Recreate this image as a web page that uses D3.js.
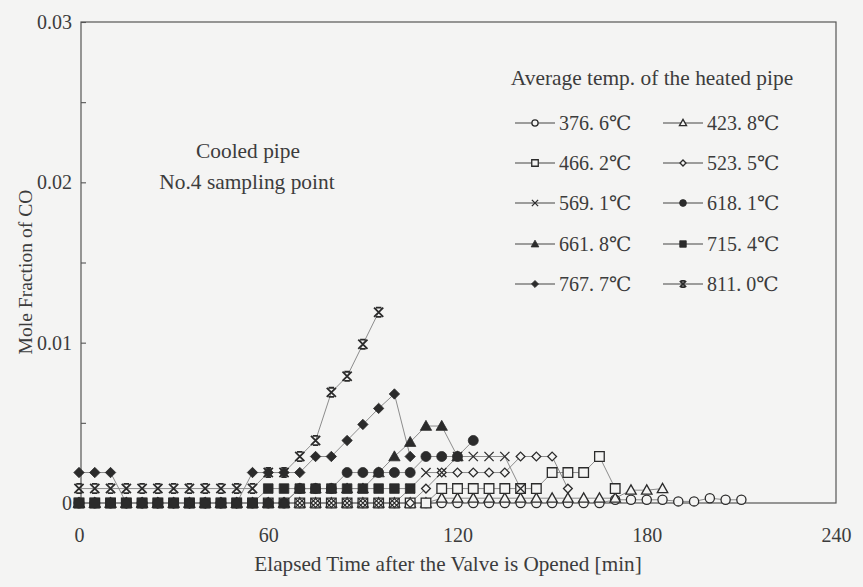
<!DOCTYPE html>
<html>
<head>
<meta charset="utf-8">
<script src="https://cdn.jsdelivr.net/npm/d3@7"></script>
<style>
  body { margin: 0; background: #f4f4f3; }
  svg { display: block; }
  text { font-family: "Liberation Serif", "DejaVu Serif", serif; fill: #3c3c3c; }
</style>
</head>
<body>
<svg id="chart" width="863" height="587"></svg>
<script>
// Sampling times [min] (every 5 min after the valve is opened)
const elapsedMin = [0, 5, 10, 15, 20, 25, 30, 35, 40, 45, 50, 55, 60, 65, 70, 75, 80, 85, 90, 95,
  100, 105, 110, 115, 120, 125, 130, 135, 140, 145, 150, 155, 160, 165, 170, 175, 180, 185, 190, 195,
  200, 205, 210];

// Average temperature of the heated pipe for each run
const runLabels = ["376. 6℃", "423. 8℃", "466. 2℃", "523. 5℃", "569. 1℃",
  "618. 1℃", "661. 8℃", "715. 4℃", "767. 7℃", "811. 0℃"];

// Mole fraction of CO at the No.4 sampling point, one value per sampling time
const co376 = [0, 0, 0, 0, 0, 0, 0, 0, 0, 0, 0, 0, 0, 0, 0, 0, 0, 0, 0, 0,
  0, 0, 0, 0, 0, 0, 0, 0, 0, 0, 0, 0, 0, 0,
  0.0002, 0.0002, 0.0002, 0.0002, 0.0001, 0.0001, 0.0003, 0.0002, 0.0002];
const co423 = [0, 0, 0, 0, 0, 0, 0, 0, 0, 0, 0, 0, 0, 0, 0, 0, 0, 0, 0, 0,
  0, 0, 0, 0.0003, 0.0003, 0.0003, 0.0003, 0.0003, 0.0003, 0.0003, 0.0003, 0.0003, 0.0003, 0.0003,
  0.0003, 0.0008, 0.0008, 0.0009];
const co466 = [0, 0, 0, 0, 0, 0, 0, 0, 0, 0, 0, 0, 0, 0, 0, 0, 0, 0, 0, 0,
  0, 0, 0, 0.0009, 0.0009, 0.0009, 0.0009, 0.0009, 0.0009, 0.0009, 0.0019, 0.0019, 0.0019, 0.0029,
  0.0009];
const co523 = [0, 0, 0, 0, 0, 0, 0, 0, 0, 0, 0, 0, 0, 0, 0, 0, 0, 0, 0, 0,
  0, 0, 0.0009, 0.0019, 0.0019, 0.0019, 0.0019, 0.0019, 0.0029, 0.0029, 0.0029, 0.0009];
const co569 = [0, 0, 0, 0, 0, 0, 0, 0, 0, 0, 0, 0, 0, 0, 0, 0, 0, 0, 0, 0,
  0, 0.0009, 0.0019, 0.0019, 0.0029, 0.0029, 0.0029, 0.0029, 0.0009];
const co618 = [0, 0, 0, 0, 0, 0, 0, 0, 0, 0, 0, 0, 0, 0, 0.0009, 0.0009, 0.0009, 0.0019, 0.0019, 0.0019,
  0.0019, 0.0019, 0.0029, 0.0029, 0.0029, 0.0039];
const co661 = [0, 0, 0, 0, 0, 0, 0, 0, 0, 0, 0, 0, 0, 0, 0.0009, 0.0009, 0.0009, 0.0009, 0.0009, 0.0019,
  0.0029, 0.0038, 0.0048, 0.0048, 0.0029];
const co715 = [0, 0, 0, 0, 0, 0, 0, 0, 0, 0, 0, 0, 0.0009, 0.0009, 0.0009, 0.0009, 0.0009, 0.0009, 0.0009, 0.0009,
  0.0009, 0.0009];
const co767 = [0.0019, 0.0019, 0.0019, 0, 0, 0, 0, 0, 0, 0, 0, 0.0019, 0.0019, 0.0019, 0.0019, 0.0029, 0.0029, 0.0039, 0.0049, 0.0059,
  0.0068, 0.0029];
const co811 = [0.0009, 0.0009, 0.0009, 0.0009, 0.0009, 0.0009, 0.0009, 0.0009, 0.0009, 0.0009, 0.0009, 0.0009, 0.0019, 0.0019, 0.0029, 0.0039, 0.0069, 0.0079, 0.0099, 0.0119];

const coSeries = [co376, co423, co466, co523, co569, co618, co661, co715, co767, co811];

// Axis ticks
const xTicks = [0, 60, 120, 180, 240];
const yTicks = [0, 0.005, 0.01, 0.015, 0.02, 0.025, 0.03];
const yTickLabels = ["0", "", "0.01", "", "0.02", "", "0.03"];

// ---- drawing ----
const BG = "#f4f4f3", INK = "#2b2b2b", LINE = "#8c8c8c", FRAME = "#555";
const FONT = '"Liberation Serif", "DejaVu Serif", serif';
const svg = d3.select("#chart");
const plot = { left: 81, right: 836, top: 22, bottom: 503 };

const x = d3.scaleLinear().domain([0, 240]).range([79, 836]);
const y = d3.scaleLinear().domain([0, 0.03]).range([503, 22]);

// marker styles per run: shape, filled?, size
const markerStyle = [
  { shape: "circle", fill: false, r: 4.6 },
  { shape: "triangle", fill: false, r: 5 },
  { shape: "square", fill: false, r: 4.8 },
  { shape: "diamond", fill: false, r: 4.4 },
  { shape: "x", fill: false, r: 4.6 },
  { shape: "circle", fill: true, r: 5 },
  { shape: "triangle", fill: true, r: 5.4 },
  { shape: "square", fill: true, r: 4.8 },
  { shape: "diamond", fill: true, r: 5.2 },
  { shape: "xbar", fill: true, r: 4.6 }
];

function markerPath(shape, r) {
  switch (shape) {
    case "triangle":
      return `M0,${-r * 1.05}L${r * 1.05},${r * 0.8}L${-r * 1.05},${r * 0.8}Z`;
    case "square":
      return `M${-r},${-r}H${r}V${r}H${-r}Z`;
    case "diamond":
      return `M0,${-r}L${r},0L0,${r}L${-r},0Z`;
    case "x":
      return `M${-r},${-r}L${r},${r}M${r},${-r}L${-r},${r}`;
    case "xbar":
      return `M${-r},${-r}L${r},${r}M${r},${-r}L${-r},${r}M${-r * 0.6},${-r}H${r * 0.6}M${-r * 0.6},${r}H${r * 0.6}`;
  }
  return null;
}

function drawMarker(g, st, cx, cy, scale) {
  const r = st.r * scale;
  const strokeOnly = st.shape === "x" || st.shape === "xbar";
  let el;
  if (st.shape === "circle") {
    el = g.append("circle").attr("cx", cx).attr("cy", cy).attr("r", r);
  } else {
    el = g.append("path").attr("d", markerPath(st.shape, r)).attr("transform", `translate(${cx},${cy})`);
  }
  if (strokeOnly) {
    el.attr("fill", "none").attr("stroke", INK).attr("stroke-width", st.shape === "xbar" ? 1.8 : 1.3);
  } else if (st.fill) {
    el.attr("fill", INK).attr("stroke", INK).attr("stroke-width", 0.8);
  } else {
    el.attr("fill", BG).attr("stroke", INK).attr("stroke-width", 1.3);
  }
}

// frame
svg.append("rect")
  .attr("x", plot.left).attr("y", plot.top)
  .attr("width", plot.right - plot.left).attr("height", plot.bottom - plot.top)
  .attr("fill", "none").attr("stroke", FRAME).attr("stroke-width", 1.2);

// y axis (ticks point inward)
const yAxis = svg.append("g")
  .attr("transform", `translate(${plot.left},0)`)
  .call(d3.axisLeft(y).tickValues(yTicks).tickSize(-5).tickPadding(9)
    .tickFormat((d, i) => yTickLabels[i]));
yAxis.select(".domain").remove();
yAxis.attr("font-family", FONT).attr("font-size", 20);
yAxis.selectAll("line").attr("stroke", FRAME).attr("stroke-width", 1.1);
yAxis.selectAll("text").attr("fill", "#3c3c3c");

// x axis labels
const xAxis = svg.append("g")
  .attr("transform", `translate(0,${plot.bottom})`)
  .call(d3.axisBottom(x).tickValues(xTicks).tickSize(0).tickPadding(25).tickFormat(d3.format("d")));
xAxis.select(".domain").remove();
xAxis.attr("font-family", FONT).attr("font-size", 20);
xAxis.selectAll("text").attr("fill", "#3c3c3c");

// axis titles
svg.append("text")
  .attr("x", 448).attr("y", 571).attr("text-anchor", "middle").attr("font-size", 21.2)
  .text("Elapsed Time after the Valve is Opened [min]");
svg.append("text")
  .attr("transform", "translate(32,272) rotate(-90)").attr("text-anchor", "middle").attr("font-size", 19.6)
  .text("Mole Fraction of CO");

// annotation
svg.append("text").attr("x", 248).attr("y", 158).attr("text-anchor", "middle").attr("font-size", 21.4)
  .text("Cooled pipe");
svg.append("text").attr("x", 247).attr("y", 189).attr("text-anchor", "middle").attr("font-size", 21.4)
  .text("No.4 sampling point");

// connecting lines
const line = d3.line().x(d => x(d[0])).y(d => y(d[1]));
const linesG = svg.append("g");
const marksG = svg.append("g");
coSeries.forEach((vals) => {
  const pts = vals.map((v, i) => [elapsedMin[i], v]);
  linesG.append("path").attr("d", line(pts))
    .attr("fill", "none").attr("stroke", LINE).attr("stroke-width", 1);
});
coSeries.forEach((vals, k) => {
  const g = marksG.append("g");
  vals.forEach((v, i) => drawMarker(g, markerStyle[k], x(elapsedMin[i]), y(v), 1));
});

// legend
const legend = svg.append("g");
legend.append("text").attr("x", 652).attr("y", 85).attr("text-anchor", "middle").attr("font-size", 21.4)
  .text("Average temp. of the heated pipe");
const legCols = [515, 663];
const legRows = [123, 163, 203, 244, 284];
runLabels.forEach((lab, k) => {
  const col = k % 2, row = Math.floor(k / 2);
  const lx = legCols[col], ly = legRows[row];
  legend.append("line").attr("x1", lx).attr("x2", lx + 40).attr("y1", ly).attr("y2", ly)
    .attr("stroke", "#444").attr("stroke-width", 1.1);
  drawMarker(legend, markerStyle[k], lx + 20, ly, 0.68);
  legend.append("text").attr("x", lx + 44).attr("y", ly + 7).attr("font-size", 20).text(lab);
});
</script>
</body>
</html>
